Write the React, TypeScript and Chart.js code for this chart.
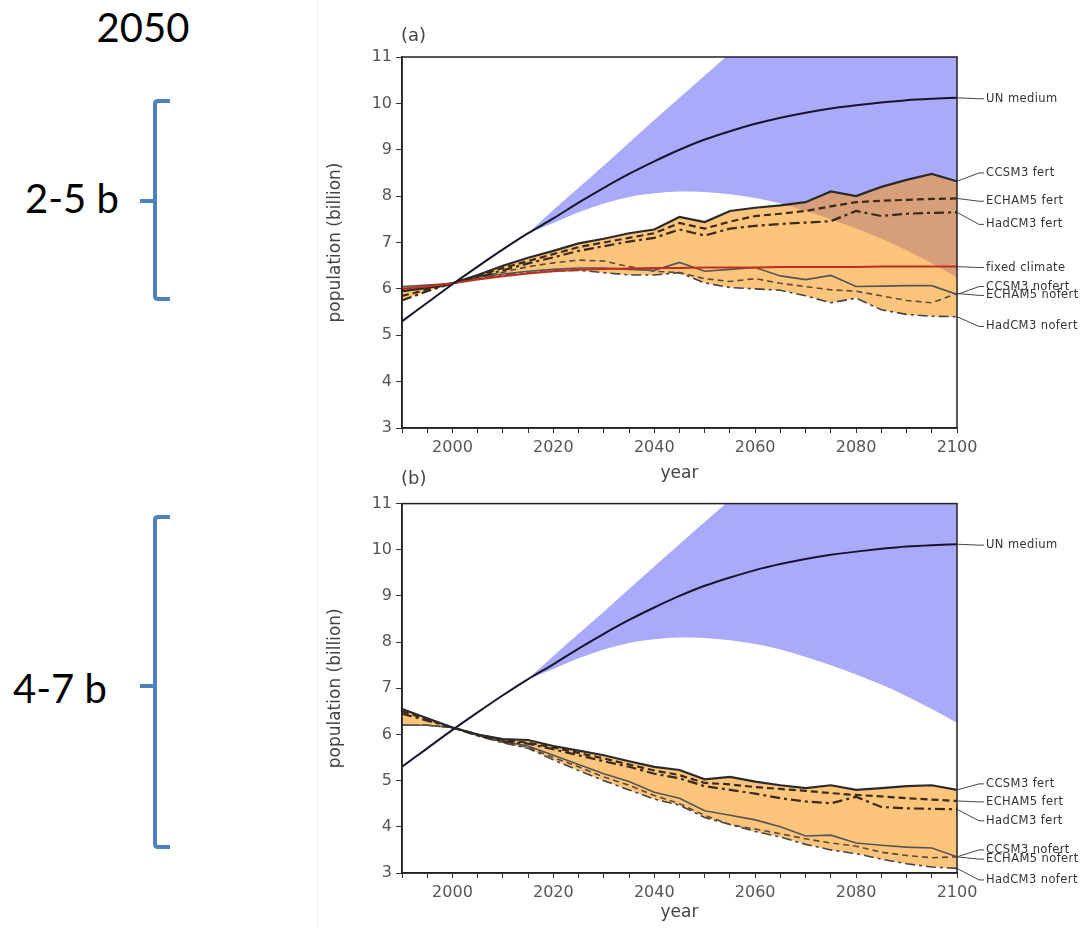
import React, { useEffect, useRef } from 'react';
import { Chart, registerables } from 'chart.js';
Chart.register(...registerables);

// ---------- data ----------
const years = [1990, 1995, 2000, 2005, 2010, 2015, 2020, 2025, 2030, 2035, 2040, 2045, 2050, 2055, 2060, 2065, 2070, 2075, 2080, 2085, 2090, 2095, 2100];
const yTicks = [3, 4, 5, 6, 7, 8, 9, 10, 11];
const xTickLabels = [2000, 2020, 2040, 2060, 2080, 2100];

const unMedium = [5.3, 5.7, 6.1, 6.48, 6.85, 7.2, 7.52, 7.86, 8.18, 8.48, 8.75, 9.0, 9.22, 9.4, 9.56, 9.69, 9.8, 9.89, 9.96, 10.02, 10.07, 10.1, 10.12];
const unUpper = [null, null, null, null, null, 7.2, 7.7, 8.18, 8.66, 9.15, 9.64, 10.12, 10.6, 11.08, 11.55, 12.0, 12.45, 12.9, 13.3, 13.7, 14.1, 14.5, 14.9];
const unLower = [null, null, null, null, null, 7.2, 7.42, 7.65, 7.84, 7.98, 8.06, 8.1, 8.09, 8.04, 7.96, 7.84, 7.68, 7.5, 7.3, 7.08, 6.83, 6.55, 6.25];
const fixedClimate = [6.0, 6.05, 6.12, 6.2, 6.27, 6.33, 6.38, 6.41, 6.43, 6.44, 6.45, 6.45, 6.46, 6.46, 6.46, 6.47, 6.47, 6.47, 6.47, 6.48, 6.48, 6.48, 6.48];

// panel (a)
const aCCSM3Fert = [5.95, 6.02, 6.12, 6.3, 6.5, 6.67, 6.82, 6.98, 7.08, 7.2, 7.28, 7.55, 7.44, 7.68, 7.75, 7.8, 7.87, 8.1, 8.0, 8.2, 8.35, 8.48, 8.32];
const aECHAM5Fert = [5.85, 5.98, 6.12, 6.28, 6.45, 6.6, 6.75, 6.9, 7.0, 7.1, 7.2, 7.42, 7.3, 7.45, 7.57, 7.62, 7.68, 7.78, 7.87, 7.9, 7.92, 7.94, 7.95];
const aHadCM3Fert = [5.75, 5.95, 6.12, 6.25, 6.4, 6.55, 6.68, 6.82, 6.92, 7.02, 7.1, 7.28, 7.15, 7.3, 7.36, 7.4, 7.43, 7.46, 7.68, 7.57, 7.62, 7.64, 7.65];
const aCCSM3Nofert = [6.05, 6.08, 6.12, 6.25, 6.32, 6.38, 6.42, 6.45, 6.45, 6.42, 6.4, 6.57, 6.38, 6.42, 6.46, 6.28, 6.2, 6.29, 6.05, 6.06, 6.07, 6.07, 5.88];
const aECHAM5Nofert = [6.0, 6.05, 6.12, 6.25, 6.36, 6.48, 6.56, 6.62, 6.6, 6.48, 6.38, 6.35, 6.22, 6.16, 6.22, 6.12, 6.05, 5.98, 5.95, 5.85, 5.75, 5.7, 5.9];
const aHadCM3Nofert = [5.95, 6.02, 6.12, 6.22, 6.3, 6.35, 6.38, 6.4, 6.35, 6.3, 6.3, 6.35, 6.13, 6.03, 6.0, 5.97, 5.85, 5.7, 5.8, 5.55, 5.45, 5.41, 5.4];

// panel (b)
const bCCSM3Fert = [6.55, 6.35, 6.15, 6.0, 5.9, 5.88, 5.75, 5.65, 5.55, 5.42, 5.3, 5.23, 5.03, 5.08, 4.98, 4.9, 4.84, 4.9, 4.8, 4.84, 4.88, 4.9, 4.8];
const bECHAM5Fert = [6.5, 6.33, 6.15, 6.0, 5.88, 5.82, 5.72, 5.6, 5.48, 5.35, 5.22, 5.12, 4.95, 4.92, 4.86, 4.82, 4.78, 4.73, 4.69, 4.66, 4.62, 4.59, 4.56];
const bHadCM3Fert = [6.45, 6.3, 6.15, 5.98, 5.85, 5.8, 5.68, 5.55, 5.42, 5.3, 5.15, 5.05, 4.88, 4.8, 4.72, 4.62, 4.55, 4.51, 4.65, 4.43, 4.4, 4.39, 4.38];
const bCCSM3Nofert = [6.2, 6.2, 6.15, 6.0, 5.85, 5.75, 5.55, 5.35, 5.15, 4.98, 4.75, 4.62, 4.35, 4.25, 4.15, 4.0, 3.8, 3.82, 3.65, 3.6, 3.56, 3.54, 3.35];
const bECHAM5Nofert = [6.2, 6.2, 6.15, 5.98, 5.83, 5.72, 5.5, 5.3, 5.08, 4.9, 4.68, 4.5, 4.25, 4.05, 3.95, 3.85, 3.74, 3.65, 3.58, 3.45, 3.38, 3.33, 3.35];
const bHadCM3Nofert = [6.2, 6.2, 6.15, 5.97, 5.82, 5.7, 5.45, 5.22, 5.0, 4.8, 4.6, 4.47, 4.2, 4.05, 3.9, 3.78, 3.62, 3.5, 3.42, 3.3, 3.2, 3.13, 3.1];

// label positions at the right edge (in y-axis units)
const aLabelAt = { un: 10.1, cf: 8.5, ef: 7.89, hf: 7.39, fixed: 6.46, cn: 6.05, en: 5.86, hn: 5.19 };
const bLabelAt = { un: 10.1, cf: 4.93, ef: 4.54, hf: 4.13, cn: 3.5, en: 3.3, hn: 2.85 };

// ---------- helpers ----------
const pts = (arr: (number | null)[]) => arr.map((v, i) => ({ x: years[i], y: v }));
const last = (arr: number[]) => arr[arr.length - 1];
const env = (series: number[][], f: (...v: number[]) => number) => years.map((_, i) => f(...series.map(s => s[i])));

const FONT = '"DejaVu Sans", sans-serif';
const DARK = '#2a2a2a';

const sideLabels = {
  id: 'sideLabels',
  afterDraw(chart: any, _a: any, opts: any) {
    const { ctx, chartArea, scales } = chart;
    const ys = scales.y;
    ctx.save();
    ctx.font = '11.5px ' + FONT;
    ctx.fillStyle = '#333';
    ctx.strokeStyle = '#444';
    ctx.lineWidth = 1;
    ctx.textBaseline = 'middle';
    ctx.textAlign = 'left';
    try { ctx.letterSpacing = '0.4px'; } catch (e) {}
    for (const it of opts.items || []) {
      const y0 = ys.getPixelForValue(it.end);
      const y1 = ys.getPixelForValue(it.at);
      const r = chartArea.right;
      ctx.beginPath();
      ctx.moveTo(r, y0);
      ctx.lineTo(r + 22, y1);
      ctx.lineTo(r + 27, y1);
      ctx.stroke();
      ctx.fillText(it.text, r + 29, y1);
    }
    ctx.restore();
  },
};

const frame = {
  id: 'frame',
  afterDatasetsDraw(chart: any) {
    const { ctx, chartArea: a } = chart;
    ctx.save();
    ctx.strokeStyle = '#222';
    ctx.lineWidth = 1.5;
    ctx.strokeRect(a.left, a.top, a.right - a.left, a.bottom - a.top);
    ctx.restore();
  },
};

function lineDs(label: string, data: number[], color: string, width: number, dash: number[], order = 1) {
  return {
    label,
    data: pts(data),
    borderColor: color,
    borderWidth: width,
    borderDash: dash,
    pointRadius: 0,
    fill: false,
    tension: 0,
    order,
  };
}

function makeConfig(panel: 'a' | 'b') {
  const isA = panel === 'a';
  const cf = isA ? aCCSM3Fert : bCCSM3Fert;
  const ef = isA ? aECHAM5Fert : bECHAM5Fert;
  const hf = isA ? aHadCM3Fert : bHadCM3Fert;
  const cn = isA ? aCCSM3Nofert : bCCSM3Nofert;
  const en = isA ? aECHAM5Nofert : bECHAM5Nofert;
  const hn = isA ? aHadCM3Nofert : bHadCM3Nofert;
  const models = [cf, ef, hf, cn, en, hn];
  const oUp = env(models, Math.max);
  const oLo = env(models, Math.min);

  const datasets: any[] = [
    { ...lineDs('UN medium', unMedium, '#15152e', 2, [], 0), cubicInterpolationMode: 'monotone' },
    lineDs('CCSM3 fert', cf, DARK, 2.2, [], 1),
    lineDs('ECHAM5 fert', ef, '#3b2a18', 2.2, [7, 4], 1),
    lineDs('HadCM3 fert', hf, '#3b2a18', 2.2, [10, 4, 3, 4], 1),
    lineDs('CCSM3 nofert', cn, '#555', 1.6, [], 1),
    lineDs('ECHAM5 nofert', en, '#5a4a3a', 1.6, [6, 4], 1),
    lineDs('HadCM3 nofert', hn, '#444', 1.6, [10, 4, 3, 4], 1),
  ];
  if (isA) datasets.push(lineDs('fixed climate', fixedClimate, '#c42e20', 2, [], 0.5));
  const bi = datasets.length;
  datasets.push({
    label: 'unUpper', data: pts(unUpper), borderWidth: 0, pointRadius: 0, cubicInterpolationMode: 'monotone',
    fill: { target: bi + 1 }, backgroundColor: 'rgb(170,170,250)', order: 10,
  });
  datasets.push({
    label: 'unLower', data: pts(unLower), borderWidth: 0, pointRadius: 0, cubicInterpolationMode: 'monotone',
    fill: false, order: 10,
  });
  const oi = datasets.length;
  datasets.push({
    label: 'orangeUpper', data: pts(oUp), borderWidth: 0, pointRadius: 0, tension: 0,
    fill: { target: oi + 1 }, backgroundColor: 'rgba(251,150,14,0.55)', order: 9,
  });
  datasets.push({
    label: 'orangeLower', data: pts(oLo), borderWidth: 0, pointRadius: 0, tension: 0, fill: false, order: 9,
  });

  const items = isA
    ? [
        { text: 'UN medium', end: last(unMedium), at: aLabelAt.un },
        { text: 'CCSM3 fert', end: last(cf), at: aLabelAt.cf },
        { text: 'ECHAM5 fert', end: last(ef), at: aLabelAt.ef },
        { text: 'HadCM3 fert', end: last(hf), at: aLabelAt.hf },
        { text: 'fixed climate', end: last(fixedClimate), at: aLabelAt.fixed },
        { text: 'CCSM3 nofert', end: last(cn), at: aLabelAt.cn },
        { text: 'ECHAM5 nofert', end: last(en), at: aLabelAt.en },
        { text: 'HadCM3 nofert', end: last(hn), at: aLabelAt.hn },
      ]
    : [
        { text: 'UN medium', end: last(unMedium), at: bLabelAt.un },
        { text: 'CCSM3 fert', end: last(cf), at: bLabelAt.cf },
        { text: 'ECHAM5 fert', end: last(ef), at: bLabelAt.ef },
        { text: 'HadCM3 fert', end: last(hf), at: bLabelAt.hf },
        { text: 'CCSM3 nofert', end: last(cn), at: bLabelAt.cn },
        { text: 'ECHAM5 nofert', end: last(en), at: bLabelAt.en },
        { text: 'HadCM3 nofert', end: last(hn), at: bLabelAt.hn },
      ];

  const xH = isA ? 62 : 55;
  return {
    type: 'line',
    data: { datasets },
    plugins: [sideLabels, frame],
    options: {
      animation: false,
      responsive: false,
      devicePixelRatio: 1,
      layout: { padding: { top: isA ? 57 : 13, right: 130, left: 0, bottom: 0 } },
      plugins: {
        legend: { display: false },
        tooltip: { enabled: false },
        sideLabels: { items },
      },
      scales: {
        x: {
          type: 'linear',
          min: 1990,
          max: 2100,
          afterBuildTicks: (s: any) => {
            s.ticks = years.map(v => ({ value: v }));
          },
          afterFit: (s: any) => { s.height = xH; },
          ticks: {
            autoSkip: false,
            maxRotation: 0,
            padding: 5,
            color: '#555',
            font: { family: FONT, size: 16 },
            callback: (v: number) => (xTickLabels.includes(v) ? String(v) : ''),
          },
          grid: { drawOnChartArea: false, drawTicks: true, tickLength: 5, color: '#333' },
          border: { display: true, color: '#222', width: 1.5 },
          title: {
            display: true, text: 'year', color: '#444',
            font: { family: FONT, size: 17 }, padding: { top: 0, bottom: isA ? 6 : 5 },
          },
        },
        y: {
          min: 3,
          max: 11,
          afterBuildTicks: (s: any) => {
            s.ticks = yTicks.map(v => ({ value: v }));
          },
          afterFit: (s: any) => { s.width = 84; },
          ticks: { padding: 4, color: '#555', font: { family: FONT, size: 16 } },
          grid: { drawOnChartArea: false, drawTicks: true, tickLength: 6, color: '#333' },
          border: { display: true, color: '#222', width: 1.5 },
          title: {
            display: true, text: 'population (billion)', color: '#444',
            font: { family: FONT, size: 17 }, padding: { top: 7, bottom: 0 },
          },
        },
      },
    },
  };
}

function Panel({ panel, top, height }: { panel: 'a' | 'b'; top: number; height: number }) {
  const ref = useRef<HTMLCanvasElement>(null);
  useEffect(() => {
    if (!ref.current) return;
    const chart = new Chart(ref.current, makeConfig(panel) as any);
    return () => chart.destroy();
  }, [panel]);
  return (
    <canvas
      ref={ref}
      width={769}
      height={height}
      style={{ position: 'absolute', left: 318, top, width: 769, height, display: 'block' }}
    />
  );
}

const annoFont = 'Lato, "Open Sans", sans-serif';
const BLUE = '#4f81bd';

function Bracket({ x, top, bottom, mid }: { x: number; top: number; bottom: number; mid: number }) {
  return (
    <path
      d={`M ${x + 15} ${top} L ${x + 3} ${top} Q ${x} ${top} ${x} ${top + 3} L ${x} ${bottom - 3} Q ${x} ${bottom} ${x + 3} ${bottom} L ${x + 15} ${bottom} M ${x} ${mid} L ${x - 15} ${mid}`}
      stroke={BLUE}
      strokeWidth={4}
      fill="none"
    />
  );
}

export default function App() {
  const label = (text: string, cx: number, cy: number) => (
    <div
      style={{
        position: 'absolute', left: cx, top: cy, transform: 'translate(-50%,-50%)',
        fontFamily: annoFont, fontSize: 40, lineHeight: 1, color: '#000', whiteSpace: 'pre',
      }}
    >
      {text}
    </div>
  );
  const small = (text: string, x: number, cy: number) => (
    <div
      style={{
        position: 'absolute', left: x, top: cy, transform: 'translateY(-50%)',
        fontFamily: FONT, fontSize: 18, lineHeight: 1, color: '#444',
      }}
    >
      {text}
    </div>
  );
  return (
    <div style={{ position: 'absolute', left: 0, top: 0, width: 1087, height: 928, background: '#fff', overflow: 'hidden' }}>
      <div style={{ position: 'absolute', left: 317, top: 0, width: 1, height: 928, background: '#f2f2f2' }} />
      <Panel panel="a" top={0} height={490} />
      <Panel panel="b" top={490} height={438} />
      {small('(a)', 401, 35)}
      {small('(b)', 401, 478)}
      {label('2050', 143, 27)}
      {label('2-5 b', 72, 198)}
      {label('4-7 b', 60, 688)}
      <svg width={320} height={928} style={{ position: 'absolute', left: 0, top: 0 }}>
        <Bracket x={155} top={101} bottom={299} mid={201} />
        <Bracket x={155} top={517} bottom={847} mid={686} />
      </svg>
    </div>
  );
}
